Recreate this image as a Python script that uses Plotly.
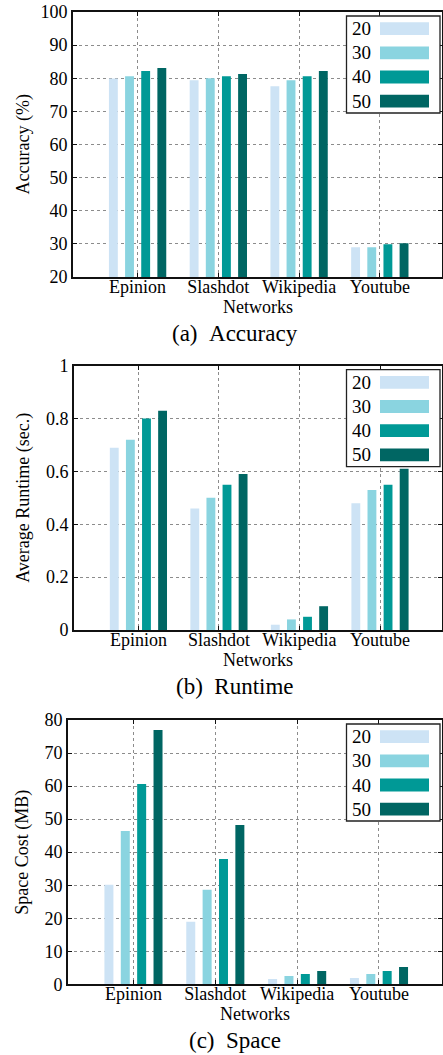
import plotly.graph_objects as go

W, H = 443, 1055

networks = ["Epinion", "Slashdot", "Wikipedia", "Youtube"]
series_names = ["20", "30", "40", "50"]
colors = ["#cde3f5", "#8ad4e0", "#009996", "#006663"]

accuracy = {
    "20": [79.9, 79.4, 77.6, 29.0],
    "30": [80.6, 80.0, 79.4, 29.0],
    "40": [82.2, 80.6, 80.6, 29.9],
    "50": [83.1, 81.3, 82.2, 30.2],
}
runtime = {
    "20": [0.69, 0.46, 0.02, 0.48],
    "30": [0.72, 0.50, 0.04, 0.53],
    "40": [0.80, 0.55, 0.05, 0.55],
    "50": [0.83, 0.59, 0.09, 0.61],
}
space = {
    "20": [30.1, 18.9, 1.6, 1.9],
    "30": [46.4, 28.6, 2.5, 3.1],
    "40": [60.6, 37.9, 3.1, 4.0],
    "50": [77.0, 48.2, 4.0, 5.2],
}

panels = [
    dict(data=accuracy, ytitle="Accuracy (%)", caption="(a)\u00a0\u00a0Accuracy",
         yrange=[20, 100], dtick=10, left=73, top=12, bottom=277, ytitle_x=23),
    dict(data=runtime, ytitle="Average Runtime (sec.)", caption="(b)\u00a0\u00a0Runtime",
         yrange=[0, 1], dtick=0.2, left=74, top=365.7, bottom=630, ytitle_x=24),
    dict(data=space, ytitle="Space Cost (MB)", caption="(c)\u00a0\u00a0Space",
         yrange=[0, 80], dtick=10, left=68, top=720, bottom=984.3, ytitle_x=22.5),
]

FONT = "Liberation Serif, Times New Roman, serif"
RIGHT = 442


def px(x):
    return x / W


def py(y):
    return 1 - y / H


fig = go.Figure()
annotations = []
shapes = []

for i, p in enumerate(panels):
    n = "" if i == 0 else str(i + 1)
    for s, c in zip(series_names, colors):
        fig.add_trace(go.Bar(
            x=networks, y=p["data"][s], name=s,
            marker=dict(color=c, line=dict(width=0)),
            xaxis="x" + n, yaxis="y" + n, showlegend=False,
        ))
    axis_common = dict(
        showline=True, linecolor="#111111", linewidth=2, mirror="ticks",
        ticks="inside", ticklen=4, tickcolor="#111111", tickwidth=1.2,
        showgrid=True, gridcolor="#8c8c8c", griddash="dot", gridwidth=1,
        tickfont=dict(family=FONT, size=18, color="black"),
        zeroline=False,
    )
    fig.layout["xaxis" + n] = dict(
        axis_common, domain=[px(p["left"]), px(RIGHT)], anchor="y" + n,
        type="category", range=[-0.8, 3.77], ticklabelstandoff=-8,
    )
    fig.layout["yaxis" + n] = dict(
        axis_common, domain=[py(p["bottom"]), py(p["top"])], anchor="x" + n,
        range=p["yrange"], dtick=p["dtick"], tick0=0, ticklabelstandoff=0,
    )
    mid_x = (p["left"] + RIGHT) / 2
    common_ann = dict(xref="paper", yref="paper", showarrow=False,
                      xanchor="center", yanchor="middle")
    annotations.append(dict(
        common_ann, text=p["ytitle"], textangle=-90,
        x=px(p["ytitle_x"]), y=py((p["top"] + p["bottom"]) / 2),
        font=dict(family=FONT, size=18, color="black"),
    ))
    annotations.append(dict(
        common_ann, text="Networks", x=px(mid_x), y=py(p["bottom"] + 30),
        font=dict(family=FONT, size=18, color="black"),
    ))
    annotations.append(dict(
        common_ann, text=p["caption"], x=px(235), y=py(p["bottom"] + 56),
        font=dict(family=FONT, size=23, color="black"),
    ))
    # custom legend (text left, swatch right)
    bt = p["top"] + 4
    shapes.append(dict(
        type="rect", xref="paper", yref="paper",
        x0=px(346.5), x1=px(440), y0=py(bt), y1=py(bt + 97),
        line=dict(color="#222222", width=1.3), fillcolor="white", layer="above",
    ))
    for k, (s, c) in enumerate(zip(series_names, colors)):
        cy = bt + 12.6 + 24.2 * k
        shapes.append(dict(
            type="rect", xref="paper", yref="paper",
            x0=px(380), x1=px(429), y0=py(cy - 6.4), y1=py(cy + 6.4),
            line=dict(width=0), fillcolor=c, layer="above",
        ))
        annotations.append(dict(
            common_ann, text=s, x=px(350), y=py(cy), xanchor="left",
            font=dict(family=FONT, size=19, color="black"),
        ))

fig.update_layout(
    width=W, height=H, margin=dict(l=0, r=0, t=0, b=0, pad=0, autoexpand=False),
    paper_bgcolor="white", plot_bgcolor="white",
    barmode="group", bargap=0.2, bargroupgap=0.45,
    annotations=annotations, shapes=shapes, showlegend=False,
)

fig.write_html(
    "out.html",
    config={"displayModeBar": False},
    post_script="document.body.style.margin='0';document.body.style.overflow='hidden';",
)
